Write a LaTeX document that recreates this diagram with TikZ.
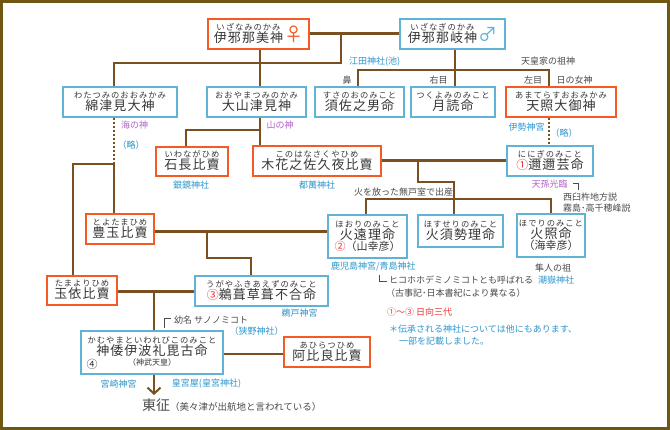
\documentclass[tikz,border=0pt]{standalone}
\usepackage{fontspec}
\setmainfont{Noto Sans CJK JP}
\newfontfamily\furifont[LetterSpace=12]{Noto Sans CJK JP}
\newfontfamily\namefont[LetterSpace=8]{Noto Sans CJK JP}
\usetikzlibrary{arrows.meta}
\definecolor{fcol}{RGB}{244,90,34}
\definecolor{mcol}{RGB}{96,178,214}
\definecolor{lcol}{RGB}{122,80,32}
\definecolor{frm}{RGB}{112,86,16}
\definecolor{gtxt}{RGB}{75,75,75}
\definecolor{ktxt}{RGB}{55,55,55}
\definecolor{bcol}{RGB}{45,150,205}
\definecolor{pcol}{RGB}{180,100,200}
\definecolor{rcol}{RGB}{240,50,50}
\newcommand\furitxt[1]{{\furifont\fontsize{8.3}{9}\selectfont #1}}
\newcommand\nametxt[1]{{\namefont\fontsize{13}{14}\selectfont #1}}
\newcommand\kami[2]{\begin{tabular}{@{}c@{}}\furitxt{#1}\\[-2.5pt]\nametxt{#2}\end{tabular}}
\newcommand\kamiii[3]{\begin{tabular}{@{}c@{}}\furitxt{#1}\\[-2.5pt]\nametxt{#2}\\[-2pt]#3\end{tabular}}
\newcommand\rnum[1]{{\color{rcol}#1}}
\tikzset{
  person/.style={draw, line width=1.8pt, fill=white, inner sep=0pt, align=center, text=ktxt},
  fem/.style={person, draw=fcol},
  mal/.style={person, draw=mcol},
  fam/.style={draw=lcol, line width=2pt},
  wed/.style={draw=lcol, line width=3pt},
  wedthin/.style={draw=lcol, line width=2pt},
  dotline/.style={draw=lcol, line width=2pt, dash pattern=on 2pt off 2pt},
  brk/.style={draw=gtxt, line width=0.8pt},
  lb/.style={inner sep=0pt, font=\fontsize{9}{10}\selectfont, text=bcol},
  lg/.style={inner sep=0pt, font=\fontsize{9}{10}\selectfont, text=gtxt},
  lp/.style={inner sep=0pt, font=\fontsize{9}{10}\selectfont, text=pcol},
  lr/.style={inner sep=0pt, font=\fontsize{9}{10}\selectfont, text=rcol},
}
\begin{document}
\begin{tikzpicture}[x=1pt,y=-1pt]
\useasboundingbox (0,0) rectangle (670,430);
\fill[white] (0,0) rectangle (670,430);
\draw[frm, line width=3pt] (1.5,1.5) rectangle (668.5,428.5);

% ---- persons ----
\node[fem, minimum width=101pt, minimum height=30pt] (izanami) at (258.5,34)
  {\kami{いざなみのかみ}{伊邪那美神}\hspace{1pt}\raisebox{-5pt}{\color{fcol}\fontsize{19}{19}\selectfont ♀}};
\node[mal, minimum width=105pt, minimum height=30pt] (izanagi) at (452.5,34)
  {\kami{いざなぎのかみ}{伊邪那岐神}\hspace{1pt}\raisebox{-5pt}{\color{mcol}\fontsize{19}{19}\selectfont ♂}};
\node[mal, minimum width=114pt, minimum height=30pt] (watatsumi) at (120,102) {\kami{わたつみのおおみかみ}{綿津見大神}};
\node[mal, minimum width=99pt, minimum height=30pt] (oyama) at (256.5,102) {\kami{おおやまつみのかみ}{大山津見神}};
\node[mal, minimum width=89pt, minimum height=30pt] (susanoo) at (359.5,102) {\kami{すさのおのみこと}{須佐之男命}};
\node[mal, minimum width=84pt, minimum height=30pt] (tsukuyomi) at (453,102) {\kami{つくよみのみこと}{月読命}};
\node[fem, minimum width=110pt, minimum height=30pt] (amaterasu) at (561,102) {\kami{あまてらすおおみかみ}{天照大御神}};
\node[fem, minimum width=72pt, minimum height=29pt] (iwanaga) at (192,161.5) {\kami{いわながひめ}{石長比賣}};
\node[fem, minimum width=128pt, minimum height=30pt] (konohana) at (317,161) {\kami{このはなさくやひめ}{木花之佐久夜比賣}};
\node[mal, minimum width=86pt, minimum height=30pt] (ninigi) at (550,161)
  {\kami{ににぎのみこと}{{\color{rcol}\fontsize{12}{12}\selectfont ①}邇邇芸命}};
\node[fem, minimum width=68pt, minimum height=30pt] (toyotama) at (120,229) {\kami{とよたまひめ}{豊玉比賣}};
\node[mal, minimum width=79pt, minimum height=43pt] (hoori) at (367.5,236.5)
  {\kamiii{ほおりのみこと}{火遠理命}{{\fontsize{11}{11}\selectfont\rnum{②}（山幸彦）}}};
\node[mal, minimum width=85pt, minimum height=32pt] (hosuseri) at (460.5,231) {\kami{ほすせりのみこと}{火須勢理命}};
\node[mal, minimum width=68pt, minimum height=43pt] (hoderi) at (551,235.5)
  {\kamiii{ほでりのみこと}{火照命}{{\fontsize{11}{11}\selectfont （海幸彦）}}};
\node[fem, minimum width=70pt, minimum height=29pt] (tamayori) at (82,290.5) {\kami{たまよりひめ}{玉依比賣}};
\node[mal, minimum width=133pt, minimum height=30pt] (ugaya) at (261.5,291)
  {\kami{うがやふきあえずのみこと}{{\color{rcol}\fontsize{12}{12}\selectfont ③}鵜葺草葺不合命}};
\node[mal, minimum width=142pt, minimum height=43pt] (kamu) at (152,352.5)
  {\kamiii{かむやまといわれびこのみこと}{神倭伊波礼毘古命}{{\fontsize{8}{8}\selectfont （神武天皇）}}};
\node[inner sep=0pt, text=ktxt, font=\fontsize{11}{11}\selectfont] (n4) at (92,364) {④};
\node[fem, minimum width=86pt, minimum height=30pt] (ahira) at (327,352) {\kami{あひらつひめ}{阿比良比賣}};

% ---- coordinates ----
\coordinate (j1) at (341,34);
\coordinate (j1b) at (341,63);
\coordinate (w1) at (114,63);
\coordinate (xo) at (260,0);
\coordinate (xg) at (455,0);
\coordinate (g1) at (358,70);
\coordinate (g2) at (549,70);
\coordinate (w2) at (114,164);
\coordinate (w3) at (73,164);
\coordinate (o1) at (186,130);
\coordinate (k1) at (418,161);
\coordinate (k2) at (418,182);
\coordinate (k3) at (454,182);
\coordinate (h1) at (366,199);
\coordinate (h2) at (551,199);
\coordinate (t0) at (0,232);
\coordinate (t1) at (207,232);
\coordinate (t2) at (207,258);
\coordinate (t3) at (251,258);
\coordinate (u0) at (0,292);
\coordinate (u1) at (154,292);
\coordinate (e1) at (154,395);
\coordinate (a0) at (0,354);

% ---- connectors ----
\draw[wed] (izanami.east) -- (izanagi.west);
\draw[fam] (j1) -- (j1b) -- (w1) -- (w1 |- watatsumi.north);
\draw[fam] (izanami.south -| xo) -- (oyama.north -| xo);
\draw[fam] (izanagi.south -| xg) -- (tsukuyomi.north -| xg);
\draw[fam] (susanoo.north -| g1) -- (g1) -- (g2) -- (amaterasu.north -| g2);
\draw[dotline] (amaterasu.south -| g2) -- (ninigi.north -| g2);
\draw[dotline] (watatsumi.south -| w2) -- (w2);
\draw[fam] (w2) -- (toyotama.north -| w2);
\draw[fam] (w2) -- (w3) -- (tamayori.north -| w3);
\draw[fam] (oyama.south -| xo) -- (konohana.north -| xo);
\draw[fam] (o1 -| xo) -- (o1) -- (iwanaga.north -| o1);
\draw[wed] (konohana.east) -- (ninigi.west);
\draw[fam] (k1) -- (k2) -- (k3) -- (hosuseri.north -| k3);
\draw[fam] (hoori.north -| h1) -- (h1) -- (h2) -- (hoderi.north -| h2);
\draw[wed] (toyotama.east |- t0) -- (hoori.west |- t0);
\draw[fam] (t1) -- (t2) -- (t3) -- (ugaya.north -| t3);
\draw[wed] (tamayori.east |- u0) -- (ugaya.west |- u0);
\draw[fam] (u1) -- (kamu.north -| u1);
\draw[fam, -{Straight Barb[length=6pt,width=13pt,line width=2pt]}] (kamu.south -| u1) -- (e1);
\draw[wedthin] (kamu.east |- a0) -- (ahira.west |- a0);

% ---- labels ----
\node[lb, anchor=west] (edata) at (349,62) {江田神社(池)};
\node[lg] (hana) at (347,80) {鼻};
\node[lg] (migi) at (438.5,80) {右目};
\node[lg] (sozin) at (548,61) {天皇家の祖神};
\node[lg] (hidari) at (533,80) {左目};
\node[lg] (megami) at (574.5,80) {日の女神};
\node[lp] (umi) at (134.5,125) {海の神};
\node[lp] (yama) at (280,125) {山の神};
\node[lb] (ise) at (526.5,127) {伊勢神宮};
\node[lb] (ryaku1) at (564,133) {（略）};
\node[lb] (ryaku2) at (131,145) {（略）};
\node[lb] (shiromi) at (191,185) {銀鏡神社};
\node[lb] (tsuma) at (317,185) {都萬神社};
\node[lp] (tenson) at (549.5,184) {天孫光臨};
\draw[brk] (573,183) -- (578,183) -- (578,190);
\node[lg, anchor=west] (nishi) at (563,197) {西臼杵地方説};
\node[lg, anchor=west] (kiri) at (563,208) {霧島･高千穂峰説};
\node[lg, anchor=west] (hi) at (354,192) {火を放った無戸室で出産};
\node[lb, anchor=west] (kagoshima) at (331,267) {鹿児島神宮/青島神社};
\draw[brk] (379,275) -- (379,281) -- (387,281);
\node[lg, anchor=west] (hiko) at (389,280) {ヒコホホデミノミコトとも呼ばれる};
\node[lg, anchor=west] (koji) at (386,293) {（古事記･日本書紀により異なる）};
\node[lr, anchor=west] (hyuga) at (387,312) {①～③ 日向三代};
\node[lb, anchor=west] (note1) at (389,329) {＊伝承される神社については他にもあります、};
\node[lb, anchor=west] (note2) at (399,341) {一部を記載しました。};
\node[lg] (hayato) at (553,268) {隼人の祖};
\node[lb] (shiotake) at (556,280) {潮嶽神社};
\node[lb] (udo) at (299.5,313) {鵜戸神宮};
\draw[brk] (164,328) -- (164,318) -- (171,318);
\node[lg, anchor=west] (youmei) at (174,320) {幼名 サノノミコト};
\node[lb] (sano) at (256.5,331) {（狭野神社）};
\node[lb] (miyazaki) at (118.5,384) {宮崎神宮};
\node[lb] (kogu) at (206.5,384) {皇宮屋(皇宮神社)};
\node[lg, anchor=west] (tousei) at (142,405)
  {{\fontsize{14}{14}\selectfont 東征}{\fontsize{9.5}{10}\selectfont （美々津が出航地と言われている）}};
\end{tikzpicture}
\end{document}
